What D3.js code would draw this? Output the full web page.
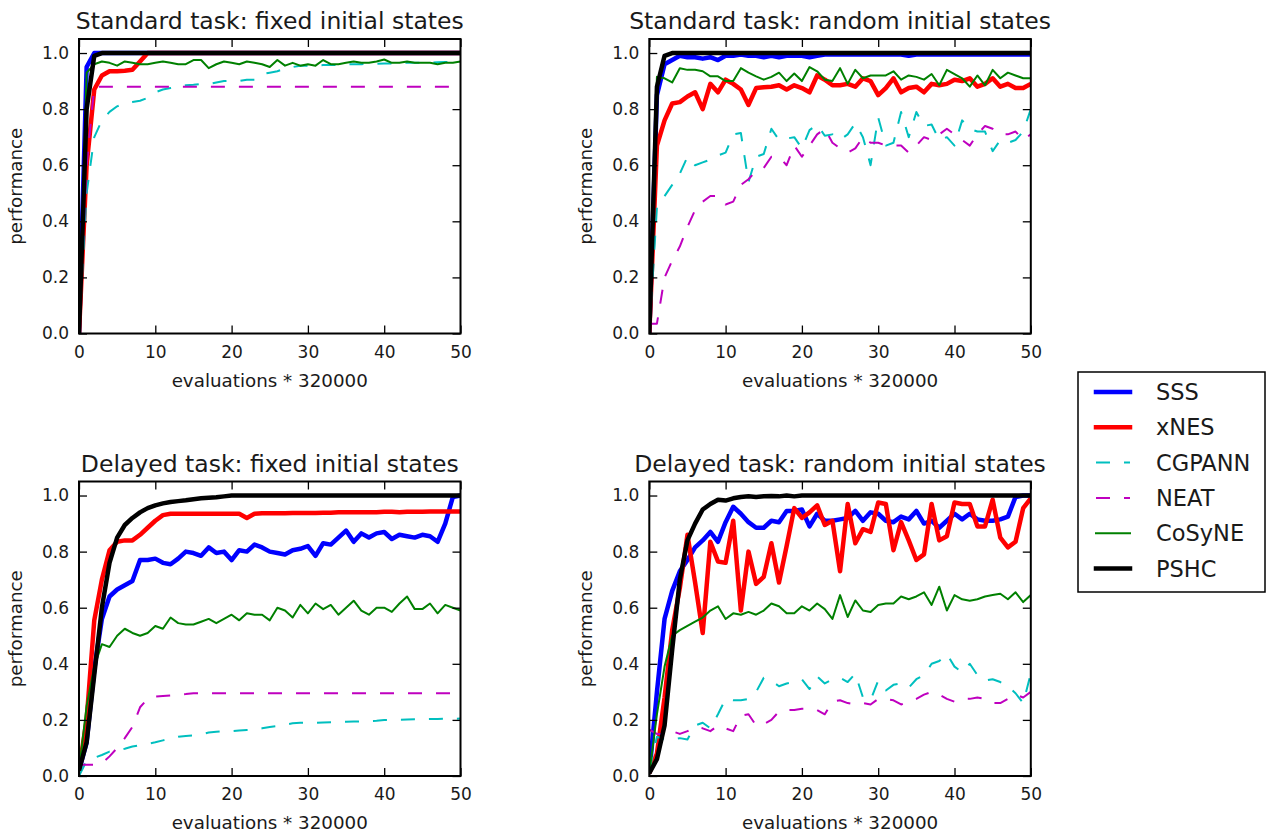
<!DOCTYPE html>
<html>
<head>
<meta charset="utf-8">
<script src="https://cdn.jsdelivr.net/npm/d3@7"></script>
<style>
  body { margin: 0; background: #fff; }
  text { font-family: "DejaVu Sans", sans-serif; fill: #1a1a1a; }
</style>
</head>
<body>
<svg id="chart" width="1272" height="834"></svg>
<script>
// Evaluation checkpoints (units of 320000 evaluations)
const evaluations = [0,1,2,3,4,5,6,7,8,9,10,11,12,13,14,15,16,17,18,19,20,21,22,23,24,25,26,27,28,29,30,31,32,33,34,35,36,37,38,39,40,41,42,43,44,45,46,47,48,49,50];

const methods = ["SSS", "xNES", "CGPANN", "NEAT", "CoSyNE", "PSHC"];
const xTicks = [0, 10, 20, 30, 40, 50];
const yTicks = [0, 0.2, 0.4, 0.6, 0.8, 1.0];
const panelTitles = [
  "Standard task: fixed initial states",
  "Standard task: random initial states",
  "Delayed task: fixed initial states",
  "Delayed task: random initial states"
];

// ---- Standard task, fixed initial states ----
const stdFixedSSS = [0,0.95,1,1,1,1,1,1,1,1, 1,1,1,1,1,1,1,1,1,1, 1,1,1,1,1,1,1,1,1,1, 1,1,1,1,1,1,1,1,1,1, 1,1,1,1,1,1,1,1,1,1, 1];
const stdFixedXNES = [0,0.6,0.87,0.92,0.935,0.935,0.937,0.94,0.97,1, 1,1,1,1,1,1,1,1,1,1, 1,1,1,1,1,1,1,1,1,1, 1,1,1,1,1,1,1,1,1,1, 1,1,1,1,1,1,1,1,1,1, 1];
const stdFixedCGPANN = [0,0.5,0.7,0.76,0.79,0.81,0.82,0.825,0.83,0.84, 0.86,0.87,0.875,0.88,0.885,0.887,0.89,0.89,0.895,0.9, 0.9,0.9,0.905,0.905,0.925,0.93,0.935,0.945,0.95,0.955, 0.955,0.955,0.957,0.957,0.958,0.96,0.96,0.96,0.962,0.962, 0.963,0.963,0.965,0.965,0.965,0.966,0.966,0.967,0.968,0.968, 0.97];
const stdFixedNEAT = [0,0.6,0.88,0.88,0.88,0.88,0.88,0.88,0.88,0.88, 0.88,0.88,0.88,0.88,0.88,0.88,0.88,0.88,0.88,0.88, 0.88,0.88,0.88,0.88,0.88,0.88,0.88,0.88,0.88,0.88, 0.88,0.88,0.88,0.88,0.88,0.88,0.88,0.88,0.88,0.88, 0.88,0.88,0.88,0.88,0.88,0.88,0.88,0.88,0.88,0.88, 0.88];
const stdFixedCoSyNE = [0,0.93,0.96,0.97,0.965,0.955,0.97,0.965,0.96,0.96, 0.965,0.97,0.965,0.96,0.96,0.975,0.975,0.946,0.96,0.97, 0.965,0.96,0.97,0.965,0.96,0.95,0.975,0.955,0.965,0.955, 0.96,0.955,0.975,0.96,0.96,0.965,0.97,0.965,0.965,0.97, 0.977,0.965,0.965,0.97,0.965,0.965,0.965,0.96,0.965,0.965, 0.97];
const stdFixedPSHC = [0,0.8,0.99,1,1,1,1,1,1,1, 1,1,1,1,1,1,1,1,1,1, 1,1,1,1,1,1,1,1,1,1, 1,1,1,1,1,1,1,1,1,1, 1,1,1,1,1,1,1,1,1,1, 1];

// ---- Standard task, random initial states ----
const stdRandSSS = [0,0.85,0.96,0.975,0.99,0.985,0.985,0.98,0.985,0.975, 0.99,0.99,0.995,0.99,0.99,0.985,0.99,0.985,0.99,0.99, 0.99,0.985,0.99,0.995,0.995,0.995,0.995,0.995,0.995,0.995, 0.995,0.995,0.995,0.995,0.99,0.995,0.995,0.995,0.995,0.995, 0.995,0.995,0.995,0.995,0.995,0.995,0.995,0.995,0.995,0.995, 0.995];
const stdRandXNES = [0,0.67,0.76,0.82,0.825,0.845,0.86,0.8,0.89,0.86, 0.905,0.89,0.87,0.815,0.875,0.878,0.88,0.885,0.87,0.885, 0.875,0.86,0.92,0.905,0.885,0.885,0.89,0.88,0.91,0.9, 0.85,0.875,0.91,0.86,0.875,0.88,0.86,0.89,0.885,0.89, 0.905,0.9,0.91,0.88,0.89,0.91,0.88,0.89,0.875,0.875, 0.89];
const stdRandCGPANN = [0,0.45,0.49,0.53,0.57,0.63,0.6,0.61,0.62,0.635, 0.645,0.71,0.715,0.54,0.63,0.64,0.73,0.69,0.695,0.7, 0.66,0.725,0.745,0.705,0.71,0.69,0.71,0.75,0.7,0.6, 0.77,0.67,0.68,0.79,0.7,0.79,0.74,0.745,0.69,0.7, 0.67,0.76,0.73,0.72,0.72,0.65,0.69,0.68,0.69,0.72, 0.8];
const stdRandNEAT = [0.035,0.035,0.2,0.26,0.31,0.38,0.44,0.47,0.49,0.49, 0.46,0.47,0.53,0.55,0.58,0.59,0.63,0.63,0.6,0.67, 0.63,0.67,0.71,0.73,0.68,0.66,0.645,0.66,0.7,0.68, 0.68,0.67,0.67,0.67,0.645,0.67,0.7,0.69,0.71,0.73, 0.71,0.69,0.67,0.71,0.74,0.73,0.71,0.71,0.72,0.69, 0.71];
const stdRandCoSyNE = [0,0.915,0.91,0.895,0.946,0.94,0.94,0.935,0.917,0.917, 0.9,0.9,0.946,0.93,0.917,0.905,0.915,0.93,0.9,0.927, 0.9,0.95,0.935,0.905,0.9,0.946,0.89,0.94,0.91,0.92, 0.92,0.92,0.935,0.905,0.92,0.915,0.905,0.925,0.885,0.94, 0.925,0.91,0.88,0.92,0.885,0.94,0.91,0.93,0.92,0.91, 0.91];
const stdRandPSHC = [0,0.88,0.99,1,1,1,1,1,1,1, 1,1,1,1,1,1,1,1,1,1, 1,1,1,1,1,1,1,1,1,1, 1,1,1,1,1,1,1,1,1,1, 1,1,1,1,1,1,1,1,1,1, 1];

// ---- Delayed task, fixed initial states ----
const delFixedSSS = [0.02,0.12,0.38,0.56,0.64,0.665,0.68,0.695,0.77,0.77, 0.775,0.76,0.755,0.775,0.8,0.795,0.785,0.815,0.795,0.8, 0.77,0.805,0.8,0.825,0.815,0.8,0.795,0.79,0.805,0.81, 0.82,0.785,0.83,0.825,0.85,0.875,0.835,0.865,0.85,0.865, 0.87,0.845,0.86,0.855,0.85,0.86,0.855,0.835,0.9,0.995, 1.0];
const delFixedXNES = [0.02,0.2,0.555,0.7,0.805,0.835,0.84,0.84,0.86,0.885, 0.91,0.93,0.935,0.935,0.935,0.935,0.935,0.935,0.935,0.935, 0.935,0.935,0.92,0.935,0.937,0.937,0.937,0.937,0.938,0.938, 0.938,0.938,0.939,0.939,0.94,0.94,0.94,0.94,0.94,0.94, 0.942,0.942,0.94,0.942,0.942,0.942,0.943,0.943,0.943,0.943, 0.943];
const delFixedCGPANN = [0,0.055,0.065,0.075,0.087,0.092,0.097,0.105,0.11,0.115, 0.12,0.127,0.133,0.14,0.143,0.145,0.148,0.155,0.158,0.16, 0.16,0.162,0.164,0.165,0.17,0.175,0.178,0.183,0.188,0.19, 0.19,0.19,0.191,0.192,0.193,0.193,0.194,0.195,0.196,0.197, 0.2,0.2,0.2,0.201,0.202,0.202,0.203,0.203,0.204,0.204, 0.205];
const delFixedNEAT = [0.04,0.04,0.04,0.045,0.07,0.1,0.135,0.175,0.245,0.275, 0.283,0.285,0.287,0.29,0.292,0.295,0.295,0.295,0.295,0.295, 0.295,0.295,0.295,0.295,0.295,0.295,0.295,0.295,0.295,0.295, 0.295,0.295,0.295,0.295,0.295,0.295,0.295,0.295,0.295,0.295, 0.295,0.295,0.295,0.295,0.295,0.295,0.295,0.295,0.295,0.295, 0.295];
const delFixedCoSyNE = [0.02,0.25,0.39,0.47,0.46,0.5,0.525,0.51,0.5,0.51, 0.535,0.525,0.565,0.545,0.54,0.54,0.55,0.56,0.545,0.56, 0.575,0.555,0.58,0.575,0.575,0.555,0.6,0.59,0.565,0.61, 0.58,0.615,0.595,0.61,0.575,0.6,0.625,0.59,0.575,0.6, 0.6,0.585,0.615,0.64,0.595,0.595,0.615,0.58,0.61,0.6, 0.59];
const delFixedPSHC = [0.02,0.12,0.36,0.6,0.76,0.85,0.895,0.92,0.94,0.955, 0.965,0.972,0.977,0.98,0.983,0.987,0.99,0.992,0.994,0.997, 1,1,1,1,1,1,1,1,1,1, 1,1,1,1,1,1,1,1,1,1, 1,1,1,1,1,1,1,1,1,1, 1];

// ---- Delayed task, random initial states ----
const delRandSSS = [0.01,0.3,0.56,0.66,0.73,0.77,0.815,0.84,0.87,0.835, 0.905,0.96,0.935,0.905,0.885,0.885,0.91,0.905,0.945,0.945, 0.95,0.89,0.935,0.91,0.91,0.915,0.92,0.945,0.91,0.94, 0.935,0.91,0.905,0.925,0.915,0.945,0.9,0.91,0.885,0.91, 0.935,0.915,0.935,0.915,0.91,0.91,0.915,0.925,0.995,1, 1];
const delRandXNES = [0.01,0.08,0.28,0.52,0.67,0.86,0.69,0.51,0.835,0.765, 0.76,0.91,0.59,0.8,0.685,0.71,0.83,0.69,0.82,0.955, 0.92,0.94,0.965,0.895,0.91,0.73,0.97,0.83,0.88,0.87, 0.975,0.97,0.805,0.905,0.84,0.77,0.79,0.97,0.84,0.855, 0.975,0.97,0.97,0.89,0.89,0.985,0.85,0.815,0.835,0.955, 0.99];
const delRandCGPANN = [0.02,0.14,0.13,0.13,0.135,0.13,0.18,0.19,0.17,0.22, 0.275,0.27,0.27,0.275,0.3,0.35,0.34,0.32,0.33,0.335, 0.345,0.31,0.355,0.33,0.345,0.35,0.335,0.365,0.28,0.27, 0.34,0.305,0.325,0.33,0.315,0.345,0.36,0.4,0.41,0.435, 0.39,0.37,0.4,0.36,0.34,0.345,0.335,0.32,0.295,0.26, 0.365];
const delRandNEAT = [0.165,0.15,0.15,0.16,0.15,0.16,0.175,0.17,0.16,0.18, 0.17,0.16,0.215,0.22,0.18,0.185,0.2,0.23,0.235,0.235, 0.24,0.24,0.235,0.22,0.265,0.27,0.26,0.255,0.26,0.255, 0.275,0.275,0.27,0.255,0.265,0.275,0.29,0.3,0.29,0.275, 0.265,0.275,0.275,0.28,0.275,0.26,0.26,0.275,0.29,0.28, 0.3];
const delRandCoSyNE = [0.01,0.22,0.39,0.5,0.52,0.535,0.55,0.565,0.59,0.605, 0.56,0.58,0.575,0.585,0.575,0.59,0.615,0.605,0.58,0.58, 0.605,0.59,0.615,0.595,0.56,0.645,0.567,0.626,0.59,0.585, 0.61,0.615,0.615,0.64,0.63,0.64,0.655,0.61,0.675,0.59, 0.645,0.63,0.625,0.63,0.64,0.645,0.65,0.63,0.655,0.62, 0.645];
const delRandPSHC = [0.01,0.06,0.18,0.45,0.7,0.84,0.9,0.95,0.97,0.985, 0.982,0.99,0.995,0.997,0.995,0.997,0.998,0.997,1,0.997, 1,1,1,1,1,1,1,1,1,1, 1,1,1,1,1,1,1,1,1,1, 1,1,1,1,1,1,1,1,1,1, 1];

// Line styles per method (drawing order = legend order)
const lineStyles = {
  SSS:    { color: "#0000ff", width: 4.5, dash: null },
  xNES:   { color: "#ff0000", width: 4.5, dash: null },
  CGPANN: { color: "#00bfbf", width: 2,   dash: "14,14" },
  NEAT:   { color: "#bf00bf", width: 2,   dash: "14,14" },
  CoSyNE: { color: "#008000", width: 2,   dash: null },
  PSHC:   { color: "#000000", width: 4.5, dash: null }
};

const panelSeries = [
  [stdFixedSSS, stdFixedXNES, stdFixedCGPANN, stdFixedNEAT, stdFixedCoSyNE, stdFixedPSHC],
  [stdRandSSS, stdRandXNES, stdRandCGPANN, stdRandNEAT, stdRandCoSyNE, stdRandPSHC],
  [delFixedSSS, delFixedXNES, delFixedCGPANN, delFixedNEAT, delFixedCoSyNE, delFixedPSHC],
  [delRandSSS, delRandXNES, delRandCGPANN, delRandNEAT, delRandCoSyNE, delRandPSHC]
];

const svg = d3.select("#chart");
const W = 381.5, H = 294.5;
const origins = [[79, 39], [649.3, 39], [79, 481.5], [649.3, 481.5]];

const x = d3.scaleLinear().domain([0, 50]).range([0, W]);
const y = d3.scaleLinear().domain([0, 1.05]).range([H, 0]);
const TICK = 8;

panelSeries.forEach((seriesList, pi) => {
  const [ox, oy] = origins[pi];
  const g = svg.append("g").attr("transform", `translate(${ox},${oy})`);

  const clipId = "clip" + pi;
  g.append("clipPath").attr("id", clipId)
    .append("rect").attr("width", W).attr("height", H);

  const line = d3.line()
    .x((d, i) => x(evaluations[i]))
    .y(d => y(d));

  const plot = g.append("g").attr("clip-path", `url(#${clipId})`);
  seriesList.forEach((vals, si) => {
    const st = lineStyles[methods[si]];
    plot.append("path")
      .datum(vals)
      .attr("d", line)
      .attr("fill", "none")
      .attr("stroke", st.color)
      .attr("stroke-width", st.width)
      .attr("stroke-linejoin", "round")
      .attr("stroke-linecap", "butt")
      .attr("stroke-dasharray", st.dash);
  });

  // axes with inward ticks on all four sides
  const bottom = g.append("g").attr("transform", `translate(0,${H})`)
    .call(d3.axisBottom(x).tickValues(xTicks).tickSizeInner(-TICK).tickSizeOuter(0).tickPadding(12).tickFormat(d3.format("d")));
  const left = g.append("g")
    .call(d3.axisLeft(y).tickValues(yTicks).tickSizeInner(-TICK).tickSizeOuter(0).tickPadding(10).tickFormat(d3.format(".1f")));
  const top = g.append("g")
    .call(d3.axisTop(x).tickValues(xTicks).tickSizeInner(-TICK).tickSizeOuter(0).tickFormat(""));
  const right = g.append("g").attr("transform", `translate(${W},0)`)
    .call(d3.axisRight(y).tickValues(yTicks).tickSizeInner(-TICK).tickSizeOuter(0).tickFormat(""));

  [bottom, left, top, right].forEach(a => {
    a.select(".domain").remove();
    a.selectAll(".tick line").attr("stroke", "#000").attr("stroke-width", 1.3);
    a.selectAll(".tick text").style("font-size", "17px").style("font-family", "DejaVu Sans").attr("fill", "#1a1a1a");
  });

  // frame
  g.append("rect").attr("width", W).attr("height", H)
    .attr("fill", "none").attr("stroke", "#000").attr("stroke-width", 2);

  // title and axis labels
  g.append("text").attr("x", W / 2).attr("y", -10)
    .attr("text-anchor", "middle").style("font-size", "23.5px")
    .text(panelTitles[pi]);
  g.append("text").attr("x", W / 2).attr("y", H + 53)
    .attr("text-anchor", "middle").style("font-size", "18.3px")
    .text("evaluations * 320000");
  g.append("text")
    .attr("transform", `translate(-57,${H / 2}) rotate(-90)`)
    .attr("text-anchor", "middle").style("font-size", "18.3px")
    .text("performance");
});

// legend
const lg = svg.append("g").attr("transform", "translate(1078,372)");
lg.append("rect").attr("width", 187).attr("height", 220)
  .attr("fill", "#fff").attr("stroke", "#000").attr("stroke-width", 1.5);
methods.forEach((m, i) => {
  const st = lineStyles[m];
  const cy = 20 + i * 35.3;
  lg.append("line")
    .attr("x1", 18).attr("x2", 52).attr("y1", cy).attr("y2", cy)
    .attr("stroke", st.color).attr("stroke-width", st.width)
    .attr("stroke-linecap", st.dash ? "butt" : "square")
    .attr("stroke-dasharray", st.dash);
  lg.append("text").attr("x", 78).attr("y", cy).attr("dy", "0.36em")
    .style("font-size", "22.5px").text(m);
});
</script>
</body>
</html>
